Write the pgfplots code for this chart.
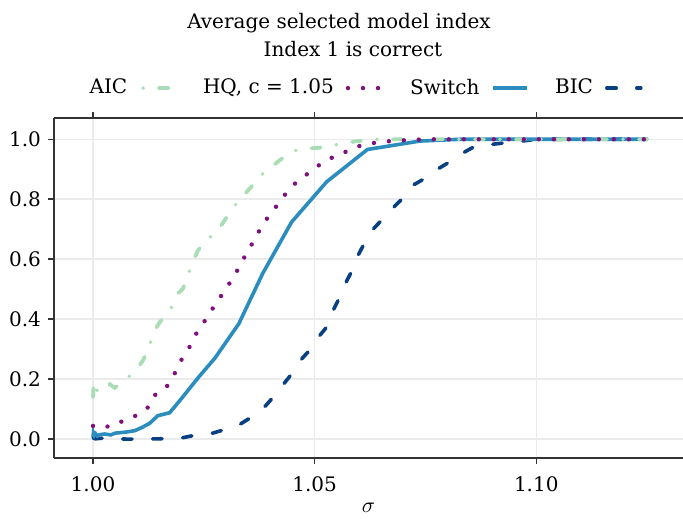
\documentclass[border=0pt]{standalone}
\usepackage{fontspec}
\setmainfont{DejaVu Serif}
\usepackage{pgfplots}
\pgfplotsset{compat=1.18}

\definecolor{aiccol}{HTML}{A8DDB5}
\definecolor{hqcol}{HTML}{810F7C}
\definecolor{swcol}{HTML}{2B8CBE}
\definecolor{biccol}{HTML}{084081}
\definecolor{gridcol}{HTML}{EBEBEB}
\definecolor{spinecol}{HTML}{333333}

\tikzset{
  aic/.style={color=aiccol, line width=1.9pt, line cap=round, dash pattern=on 4.5pt off 8pt on 0pt off 8pt},
  hq/.style={color=hqcol, line width=2.2pt, line cap=round, dash pattern=on 0pt off 7.5pt},
  sw/.style={color=swcol, line width=1.8pt, solid},
  bic/.style={color=biccol, line width=1.8pt, line cap=round, dash pattern=on 4.7pt off 10.3pt},
}

\begin{document}
\fontsize{10}{12}\selectfont
\begin{tikzpicture}
\useasboundingbox (-27pt,-30pt) rectangle (314.5pt,229pt);
\begin{axis}[name=ax, at={(0,0)}, anchor=south west,
  scale only axis, width=314.5pt, height=170pt,
  xmin=0.9912, xmax=1.1331, ymin=-0.063, ymax=1.071,
  axis x line*=box, axis y line*=left,
  axis line style={spinecol, line width=0.75pt},
  tick align=outside, major tick length=3pt,
  tick style={spinecol, line width=0.75pt},
  xtick={1.00,1.05,1.10}, ytick={0,0.2,0.4,0.6,0.8,1.0},
  grid=major, major grid style={gridcol, line width=0.75pt},
  /pgf/number format/assume math mode=true,
  xticklabel style={yshift=-3pt, /pgf/number format/.cd, fixed, fixed zerofill, precision=2},
  yticklabel style={/pgf/number format/.cd, fixed, fixed zerofill, precision=1},
  ticklabel style={font=\fontsize{10}{12}\selectfont},
  xlabel={$\sigma$}, xlabel style={yshift=1.5pt, font=\fontsize{11}{12}\selectfont},
  legend plot pos=right,
  legend image code/.code={\draw[#1] (0pt,0pt) -- (17pt,0pt);},
  legend style={draw=none, fill=none, at={(0.493,1.088)}, anchor=center,
    legend columns=-1, font=\fontsize{10}{12}\selectfont,
    /tikz/every even column/.append style={column sep=11pt},
    /tikz/every odd column/.append style={column sep=4pt}},
]
\addlegendimage{aic, dash phase=11.5pt}\addlegendentry{AIC}
\addlegendimage{hq}\addlegendentry{HQ, c = 1.05}
\addlegendimage{sw}\addlegendentry{Switch}
\addlegendimage{bic}\addlegendentry{BIC}

% BIC
\addplot[bic, forget plot] coordinates {
(1.0000,0.005) (1.0005,0.001) (1.0020,0.003) (1.0038,0.001) (1.0083,0.000)
(1.0150,0.001) (1.0200,0.004) (1.0230,0.013) (1.0268,0.019) (1.0293,0.030)
(1.0331,0.049) (1.0356,0.072) (1.0385,0.104) (1.0406,0.139) (1.0428,0.180)
(1.0448,0.217) (1.0468,0.263) (1.0489,0.297) (1.0510,0.343) (1.0529,0.377)
(1.0542,0.430) (1.0555,0.469) (1.0570,0.521) (1.0583,0.558) (1.0598,0.613)
(1.0611,0.650) (1.0631,0.699) (1.0651,0.730) (1.0677,0.772) (1.0698,0.802)
(1.0722,0.847) (1.0747,0.868) (1.0779,0.902) (1.0804,0.924) (1.0834,0.954)
(1.0862,0.977) (1.0899,0.983) (1.0929,0.988) (1.0967,0.994) (1.1001,1.000)
(1.1100,1.000) (1.1250,1.000)};

% Switch
\addplot[sw, forget plot] coordinates {
(1.0000,0.008) (1.0001,0.020) (1.0003,0.012) (1.0006,0.018) (1.0010,0.010)
(1.0015,0.015) (1.0026,0.017) (1.0040,0.014) (1.0050,0.020) (1.0072,0.023)
(1.0094,0.028) (1.0112,0.040) (1.0128,0.053) (1.0146,0.078) (1.0173,0.088)
(1.0200,0.136) (1.0239,0.208) (1.0275,0.270) (1.0329,0.385) (1.0383,0.553)
(1.0448,0.724) (1.0527,0.858) (1.0619,0.966) (1.0737,0.994) (1.0828,1.000)
(1.1000,1.000) (1.1250,1.000)};

% AIC
\addplot[aic, forget plot] coordinates {
(1.0000,0.140) (1.0001,0.170) (1.0002,0.150) (1.0004,0.169) (1.0007,0.160)
(1.0017,0.174) (1.0028,0.168) (1.0038,0.183) (1.0049,0.171) (1.0078,0.204)
(1.0100,0.236) (1.0113,0.263) (1.0126,0.306) (1.0139,0.363) (1.0151,0.391)
(1.0172,0.424) (1.0192,0.486) (1.0203,0.502) (1.0214,0.547) (1.0227,0.597)
(1.0237,0.630) (1.0258,0.666) (1.0282,0.697) (1.0297,0.730) (1.0316,0.772)
(1.0339,0.813) (1.0354,0.836) (1.0376,0.877) (1.0403,0.908) (1.0421,0.930)
(1.0451,0.961) (1.0482,0.969) (1.0512,0.972) (1.0542,0.980) (1.0591,0.993)
(1.0636,1.000) (1.0800,1.000) (1.1000,1.000) (1.1250,1.000)};

% HQ, c = 1.05
\addplot[hq, forget plot] coordinates {
(1.0000,0.044) (1.0003,0.040) (1.0011,0.041) (1.0025,0.043) (1.0039,0.041)
(1.0068,0.061) (1.0098,0.079) (1.0126,0.108) (1.0142,0.152) (1.0168,0.178)
(1.0185,0.221) (1.0200,0.266) (1.0218,0.308) (1.0233,0.352) (1.0252,0.394)
(1.0271,0.438) (1.0290,0.480) (1.0309,0.522) (1.0326,0.564) (1.0342,0.608)
(1.0359,0.652) (1.0376,0.697) (1.0394,0.739) (1.0415,0.779) (1.0435,0.819)
(1.0458,0.856) (1.0485,0.886) (1.0512,0.916) (1.0542,0.941) (1.0573,0.960)
(1.0605,0.980) (1.0638,0.989) (1.0671,0.994) (1.0705,0.997) (1.0750,1.000)
(1.0850,1.000) (1.1000,1.000) (1.1250,1.000)};
\end{axis}
\node[anchor=base] at ([xshift=142.5pt, yshift=44.5pt]ax.north west) {Average selected model index};
\node[anchor=base] at ([xshift=149.5pt, yshift=30.5pt]ax.north west) {Index 1 is correct};
\end{tikzpicture}
\end{document}
